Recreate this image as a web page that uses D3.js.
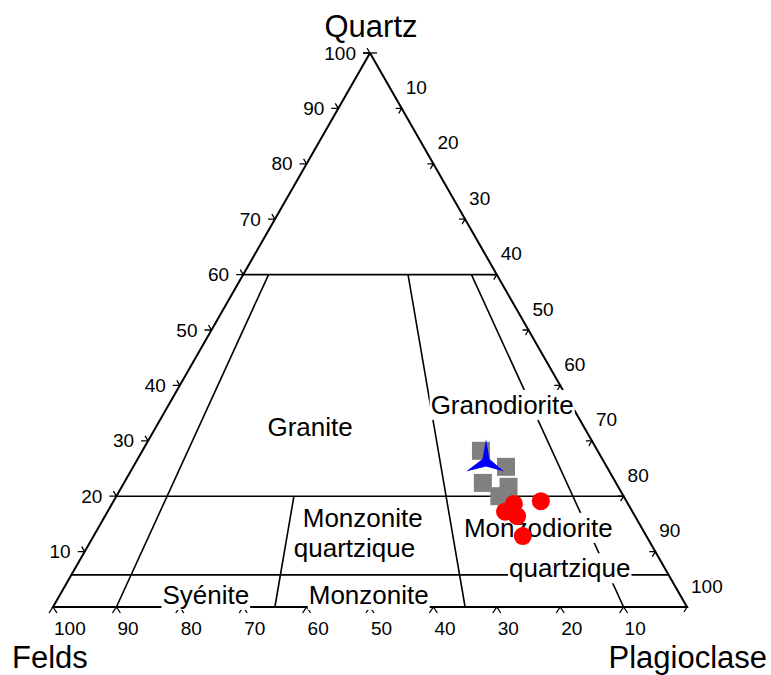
<!doctype html>
<html lang="fr">
<head>
<meta charset="utf-8">
<title>Diagramme QAP</title>
<script src="https://cdn.jsdelivr.net/npm/d3@7"></script>
<style>
  body { margin: 0; background: #fff; }
  text { font-family: "Liberation Sans", Arial, sans-serif; fill: #000; }
</style>
</head>
<body>
<script>
var svgW = 771, svgH = 675;

// compositions en % : quartz (Q) et feldspath alcalin (F), plagioclase = reste
var squareQ = [28.2, 25.3, 22.4, 21.7, 20.0, 19.9];
var squareF = [18.4, 15.9, 21.0, 17.3, 19.6, 18.4];
var circleQ = [19.1, 17.2, 18.6, 16.4, 12.8];
var circleF = [13.5, 20.1, 18.0, 18.6, 19.5];
var starQ = [26.0];
var starF = [18.7];

// limites des champs
var quartzLevels = [60, 20, 5.8];
var ratioValues = [10, 35, 65, 90];   // P/(F+P) en %
var ratioTopQ = [60, 20, 60, 60];     // quartz max de chaque ligne
var tickValues = [10, 20, 30, 40, 50, 60, 70, 80, 90, 100];

// noms des champs, position en (Q, P)
var fieldNames = ["Granite", "Granodiorite", "Monzonite", "quartzique",
                  "Monzodiorite", "quartzique", "Syénite", "Monzonite"];
var fieldQ = [32.5, 36.5, 16.1, 10.7, 14.3, 7.0, 2.2, 2.2];
var fieldP = [24.3, 52.6, 40.8, 42.2, 69.4, 78.0, 23.0, 48.7];

var xScale = d3.scaleLinear().domain([0, 100]).range([53, 687]);
var yScale = d3.scaleLinear().domain([0, 100]).range([607, 53]);

// (q, p) -> pixels
function px(q, p) { return [xScale(p + q / 2), yScale(q)]; }

var svg = d3.select("body").append("svg")
    .attr("width", svgW)
    .attr("height", svgH);

var lines = svg.append("g")
    .attr("stroke", "#000")
    .attr("fill", "none");

// triangle
lines.append("path")
    .attr("d", d3.line()([px(100, 0), px(0, 0), px(0, 100)].concat([px(100, 0)])))
    .attr("stroke-width", 2)
    .attr("stroke-linejoin", "miter");

// lignes de quartz constant
lines.selectAll(".ql")
    .data(quartzLevels)
    .enter()
    .append("line")
    .attr("x1", d => px(d, 0)[0])
    .attr("y1", d => px(d, 0)[1])
    .attr("x2", d => px(d, 100 - d)[0])
    .attr("y2", d => px(d, 100 - d)[1])
    .attr("stroke-width", 1.6);

// lignes de rapport P/(F+P)
lines.selectAll(".rl")
    .data(ratioValues)
    .enter()
    .append("line")
    .attr("x1", (d, i) => px(ratioTopQ[i], (100 - ratioTopQ[i]) * d / 100)[0])
    .attr("y1", (d, i) => px(ratioTopQ[i], (100 - ratioTopQ[i]) * d / 100)[1])
    .attr("x2", d => px(0, d)[0])
    .attr("y2", d => px(0, d)[1])
    .attr("stroke-width", 1.6);

// graduations
var ticks = svg.append("g")
    .attr("stroke", "#000")
    .attr("fill", "none")
    .attr("stroke-width", 1.3);

tickValues.forEach(function(v) {
    var l = px(v, 0);
    ticks.append("path").attr("d", "M" + (l[0] - 7) + "," + l[1] + "L" + l[0] + "," + l[1] +
        "M" + (l[0] - 3) + "," + (l[1] - 5) + "L" + l[0] + "," + l[1]);
    var r = px(100 - v, v);
    ticks.append("path").attr("d", "M" + (r[0] - 6) + "," + r[1] + "L" + r[0] + "," + r[1] +
        "L" + (r[0] - 3) + "," + (r[1] + 5));
    var b = px(0, 100 - v);
    ticks.append("path").attr("d", "M" + (b[0] - 4) + "," + (b[1] + 6) + "L" + b[0] + "," + b[1] +
        "L" + (b[0] + 4) + "," + (b[1] + 6));
});
var top0 = px(100, 0);
ticks.append("line")
    .attr("x1", top0[0] - 7).attr("y1", top0[1])
    .attr("x2", top0[0] + 7).attr("y2", top0[1]);

var tickLabels = svg.append("g").attr("font-size", "19px");

tickLabels.selectAll(".tl")
    .data(tickValues)
    .enter()
    .append("text")
    .attr("x", d => px(d, 0)[0] - 14)
    .attr("y", d => px(d, 0)[1])
    .attr("dy", "0.35em")
    .attr("text-anchor", "end")
    .text(d => d);

tickLabels.selectAll(".tr")
    .data(tickValues)
    .enter()
    .append("text")
    .attr("x", d => px(100 - d, d)[0] + 4)
    .attr("y", d => px(100 - d, d)[1] - 21)
    .attr("dy", "0.35em")
    .text(d => d);

tickLabels.selectAll(".tb")
    .data(tickValues)
    .enter()
    .append("text")
    .attr("x", d => px(0, 100 - d)[0] + 1)
    .attr("y", d => px(0, 100 - d)[1] + 28)
    .text(d => d);

// sommets
svg.append("text").attr("x", 371).attr("y", 37)
    .attr("text-anchor", "middle").attr("font-size", "31px").text("Quartz");
svg.append("text").attr("x", 12).attr("y", 668)
    .attr("font-size", "31px").text("Felds");
svg.append("text").attr("x", 767).attr("y", 668)
    .attr("text-anchor", "end").attr("font-size", "31px").text("Plagioclase");

// noms des champs avec fond blanc
var fields = svg.append("g").attr("font-size", "26px");
fieldNames.forEach(function(name, i) {
    var p = px(fieldQ[i], fieldP[i]);
    var g = fields.append("g");
    var t = g.append("text")
        .attr("x", p[0])
        .attr("y", p[1])
        .attr("dy", "0.35em")
        .attr("text-anchor", "middle")
        .text(name);
    var bb = t.node().getBBox();
    g.insert("rect", "text")
        .attr("x", bb.x - 1)
        .attr("y", bb.y)
        .attr("width", bb.width + 2)
        .attr("height", bb.height)
        .attr("fill", "#fff");
});

// échantillons
var marks = svg.append("g");

marks.selectAll(".sq")
    .data(squareQ)
    .enter()
    .append("rect")
    .attr("x", (d, i) => px(d, 100 - d - squareF[i])[0] - 9)
    .attr("y", (d, i) => px(d, 100 - d - squareF[i])[1] - 9)
    .attr("width", 18)
    .attr("height", 18)
    .attr("fill", "#808080");

var starShape = [[0, -24], [3.5, -4], [18, 8.5], [0, 3.5], [-20, 8.5], [-3.5, -4]];
marks.selectAll(".st")
    .data(starQ)
    .enter()
    .append("path")
    .attr("d", d3.line().curve(d3.curveLinearClosed)(starShape))
    .attr("transform", (d, i) => "translate(" + px(d, 100 - d - starF[i]) + ")")
    .attr("fill", "#0000ff");

marks.selectAll(".ci")
    .data(circleQ)
    .enter()
    .append("circle")
    .attr("cx", (d, i) => px(d, 100 - d - circleF[i])[0])
    .attr("cy", (d, i) => px(d, 100 - d - circleF[i])[1])
    .attr("r", 9)
    .attr("fill", "#ff0000");
</script>
</body>
</html>
